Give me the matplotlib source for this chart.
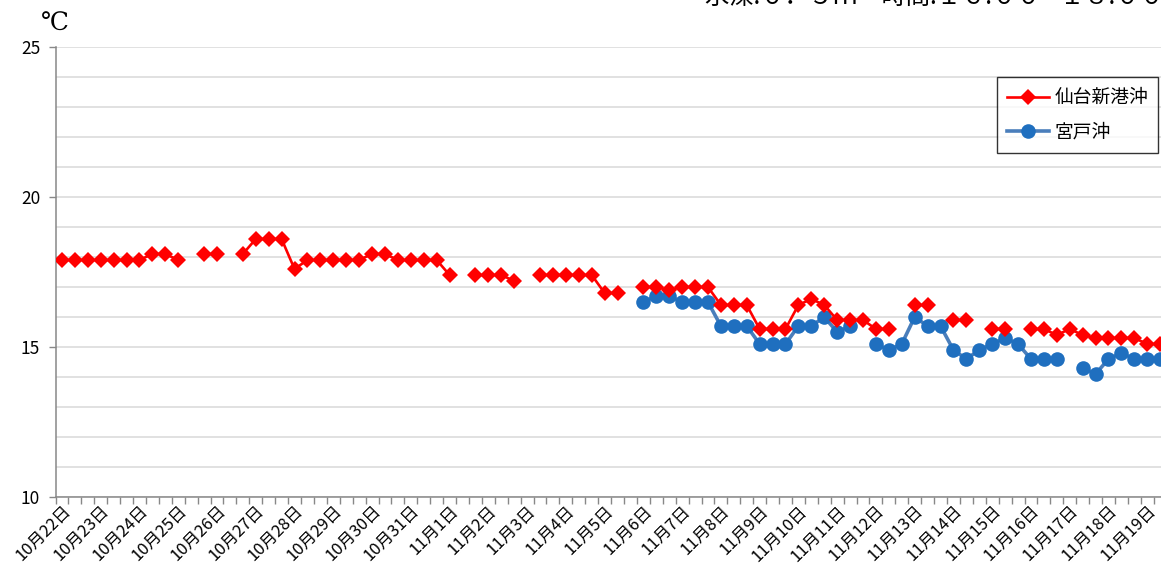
import numpy as np
import matplotlib
matplotlib.use("Agg")
import matplotlib.pyplot as plt

plt.rcParams['font.family'] = ['Noto Sans CJK JP', 'DejaVu Sans']

nan = np.nan
days = ["10月22日", "10月23日", "10月24日", "10月25日", "10月26日", "10月27日", "10月28日",
        "10月29日", "10月30日", "10月31日", "11月1日", "11月2日", "11月3日", "11月4日",
        "11月5日", "11月6日", "11月7日", "11月8日", "11月9日", "11月10日", "11月11日",
        "11月12日", "11月13日", "11月14日", "11月15日", "11月16日", "11月17日", "11月18日",
        "11月19日"]
samples_per_day = 3

sendai = [17.9, 17.9, 17.9, 17.9, 17.9, 17.9, 17.9, 18.1, 18.1, 17.9,
          nan, 18.1, 18.1, nan, 18.1, 18.6, 18.6, 18.6, 17.6, 17.9,
          17.9, 17.9, 17.9, 17.9, 18.1, 18.1, 17.9, 17.9, 17.9, 17.9,
          17.4, nan, 17.4, 17.4, 17.4, 17.2, nan, 17.4, 17.4, 17.4,
          17.4, 17.4, 16.8, 16.8, nan, 17.0, 17.0, 16.9, 17.0, 17.0,
          17.0, 16.4, 16.4, 16.4, 15.6, 15.6, 15.6, 16.4, 16.6, 16.4,
          15.9, 15.9, 15.9, 15.6, 15.6, nan, 16.4, 16.4, nan, 15.9,
          15.9, nan, 15.6, 15.6, nan, 15.6, 15.6, 15.4, 15.6, 15.4,
          15.3, 15.3, 15.3, 15.3, 15.1, 15.1, nan]

miyato = [nan] * 45 + [
    16.5, 16.7, 16.7, 16.5, 16.5,
    16.5, 15.7, 15.7, 15.7, 15.1, 15.1, 15.1, 15.7, 15.7, 16.0,
    15.5, 15.7, nan, 15.1, 14.9, 15.1, 16.0, 15.7, 15.7, 14.9,
    14.6, 14.9, 15.1, 15.3, 15.1, 14.6, 14.6, 14.6, nan, 14.3,
    14.1, 14.6, 14.8, 14.6, 14.6, 14.6, nan]

legend_labels = ["仙台新港沖", "宮戸沖"]
title_text = "水深:０．５ｍ　時間:１６:００ - １８:００"

n = len(days) * samples_per_day
x = np.arange(n)

W, H = 1161, 571
fig = plt.figure(figsize=(W / 100, H / 100), dpi=100)
left_px = 55.5
cat_w = 12.92
right_px = left_px + n * cat_w
ax = fig.add_axes([left_px / W, 1 - 497 / H, (right_px - left_px) / W, 450 / H])

ax.plot(x, sendai, color='#ff0000', lw=1.9, marker='D', markersize=8,
        markeredgewidth=0, label=legend_labels[0], zorder=4)
ax.plot(x, miyato, color='#4a7ebb', lw=2.6, marker='o', markersize=10.5,
        markerfacecolor='#1f6fbf', markeredgewidth=0, label=legend_labels[1], zorder=3)

ax.set_xlim(-0.5, n - 0.5)
ax.set_ylim(10, 25)
ax.set_yticks([10, 15, 20, 25])
ax.set_yticks(np.arange(10, 26, 1), minor=True)
ax.grid(axis='y', which='both', color='#d9d9d9', lw=1.1, zorder=0)
ax.set_axisbelow(True)

ax.set_xticks(x[::samples_per_day])
ax.set_xticklabels(days, rotation=45, ha='right', rotation_mode='anchor', fontsize=12)
ax.set_xticks(np.arange(-0.5, n, 1), minor=True)
ax.tick_params(axis='x', which='major', length=0, pad=4)
ax.tick_params(axis='x', which='minor', length=5, color='#888888', width=1)
ax.tick_params(axis='y', which='major', length=5, color='#888888', width=1,
               labelsize=12.5, pad=6)
ax.tick_params(axis='y', which='minor', length=0)

for s in ['top', 'right']:
    ax.spines[s].set_visible(False)
for s in ['left', 'bottom']:
    ax.spines[s].set_color('#888888')
    ax.spines[s].set_linewidth(1.1)

fig.text(41 / W, 1 - 24 / H, "℃", fontsize=18, family=['DejaVu Serif', 'Noto Sans CJK JP'],
         va='center', ha='left')
fig.text(705 / W, 1 + 3 / H, title_text, fontsize=17.5, va='center', ha='left')

leg = fig.legend(loc='upper left', bbox_to_anchor=(997 / W, 1 - 77 / H), fontsize=13.5,
                 frameon=True, fancybox=False, edgecolor='#000000', handlelength=2.2,
                 borderpad=0.55, labelspacing=0.7, handletextpad=0.3, borderaxespad=0)
leg.get_frame().set_linewidth(1.0)

fig.savefig("out.png", dpi=100)
